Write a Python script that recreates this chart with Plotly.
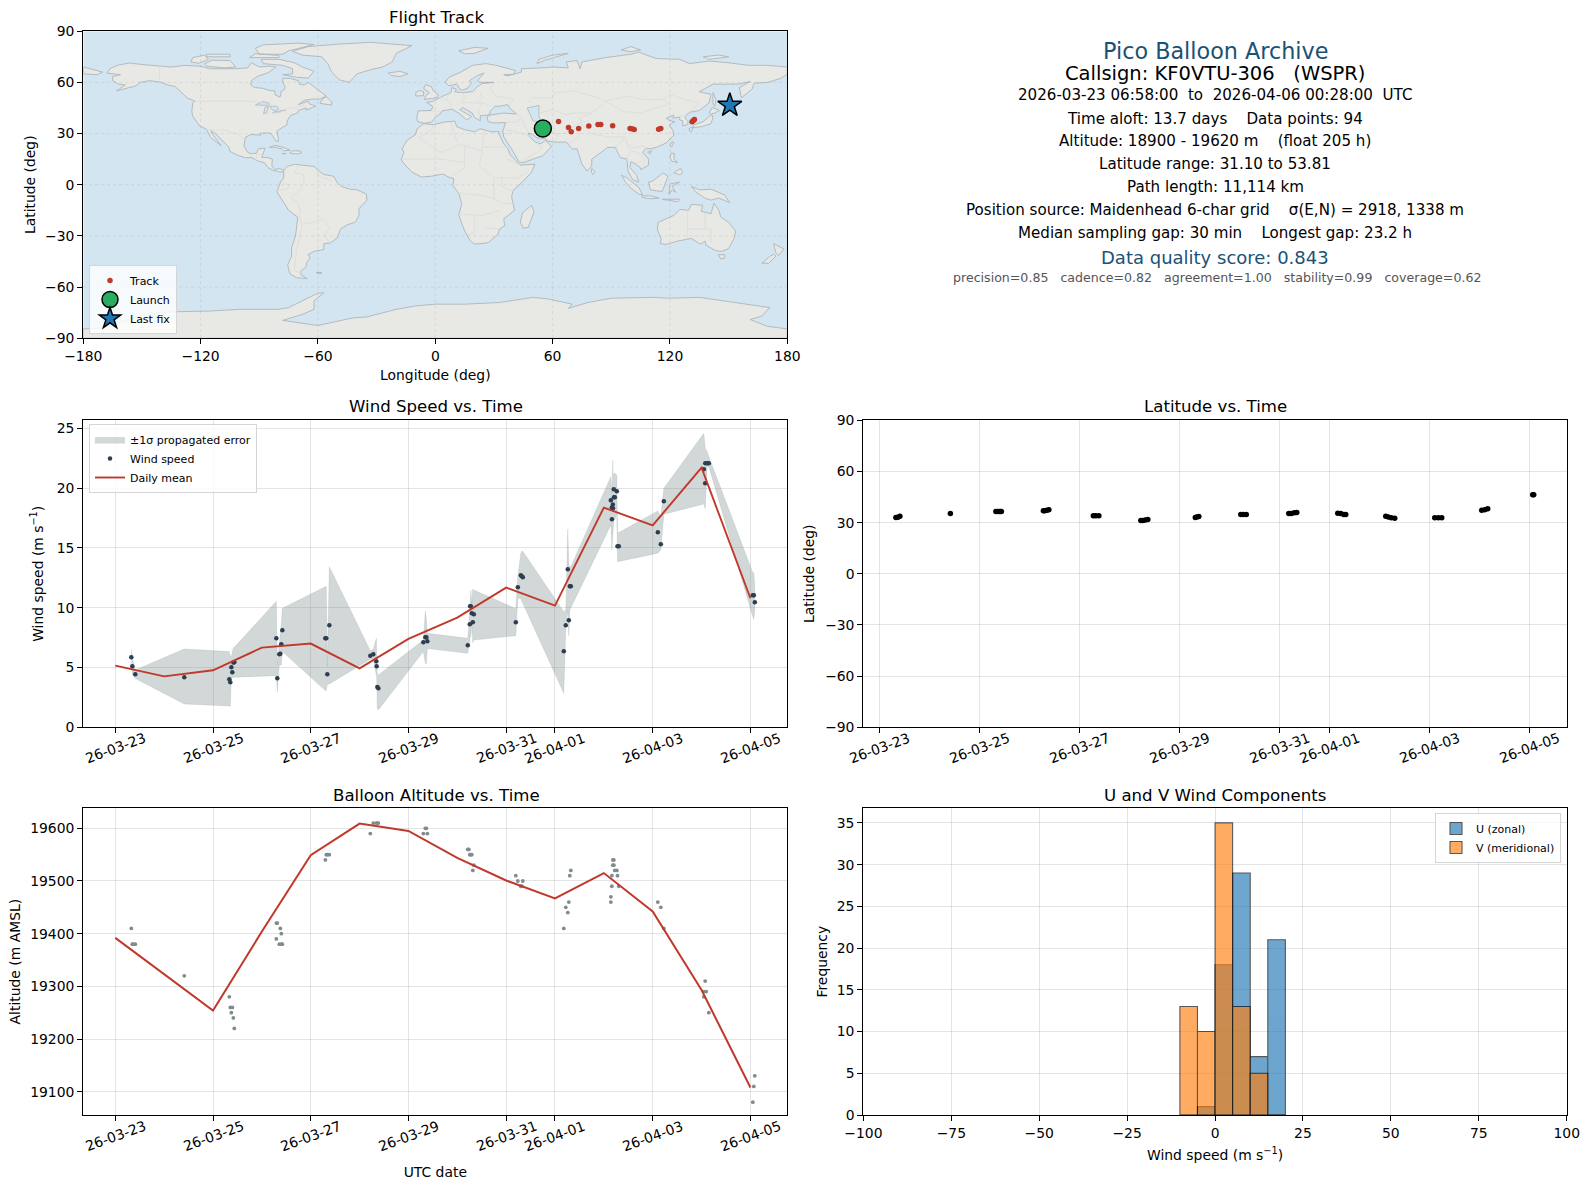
import pandas as pd
import plotly.graph_objects as go

FIG_W = 1589
FIG_H = 1189
FONT = "DejaVu Sans"
RED = "#c0392b"
NAVY = "#2c3e50"
SLATE = "#7f8c8d"
TITLE_BLUE = "#1a5276"
GRID = "rgba(170,170,170,0.32)"

BASE_DATE = pd.Timestamp("2026-03-23")

# date axis ticks
DATE_TICKS = ["2026-03-23", "2026-03-25", "2026-03-27", "2026-03-29",
              "2026-03-31", "2026-04-01", "2026-04-03", "2026-04-05"]
DATE_LABELS = ["26-03-23", "26-03-25", "26-03-27", "26-03-29",
               "26-03-31", "26-04-01", "26-04-03", "26-04-05"]

# wind speed panel
WIND_DAYS = [0.328, 0.348, 0.409, 1.412, 2.334, 2.354, 2.375, 2.395, 2.416, 2.436,
             3.296, 3.316, 3.357, 3.378, 3.398, 3.419, 4.299, 4.319, 4.340, 4.381,
             5.220, 5.281, 5.343, 5.350, 5.363, 5.384, 6.305, 6.346, 6.366, 6.387,
             7.215, 7.256, 7.263, 7.277, 7.297, 7.318, 7.338, 8.198, 8.239, 8.300,
             8.321, 8.341, 9.180, 9.221, 9.262, 9.283, 9.303, 9.324, 10.143, 10.163,
             10.165, 10.184, 10.186, 10.204, 10.206, 10.225, 10.265, 10.279, 10.306,
             11.105, 11.166, 11.228, 12.046, 12.074, 12.076, 12.115, 12.149,
             13.049, 13.070, 13.090]
WIND_SPEED = [5.85, 5.10, 4.43, 4.18, 4.01, 3.76, 5.02, 4.60, 5.41, 5.43,
              7.44, 4.10, 6.10, 6.16, 6.94, 8.11, 7.44, 7.44, 4.43, 8.53,
              5.99, 6.10, 5.52, 5.10, 3.37, 3.26, 7.11, 7.53, 7.53, 7.19,
              6.86, 8.61, 10.12, 10.12, 9.53, 8.78, 9.45, 8.78, 11.71, 12.71,
              12.63, 12.54, 6.35, 8.53, 13.21, 8.95, 11.79, 11.79, 18.98, 18.37,
              17.39, 18.62, 18.31, 19.90, 19.23, 19.23, 19.73, 15.13, 15.13,
              16.30, 15.30, 18.90, 21.57, 20.40, 22.07, 22.07, 22.07,
              11.04, 11.04, 10.45]
WIND_UPPER = [6.55, 5.77, 4.79, 6.55, 6.33, 5.91, 5.91, 6.19, 6.66, 6.69,
              10.54, 5.21, 7.02, 7.30, 8.70, 9.95, 11.76, 11.79, 5.07, 13.43,
              6.41, 6.52, 7.44, 6.74, 4.38, 4.38, 7.30, 9.73, 9.11, 7.86,
              7.44, 9.81, 11.48, 11.48, 10.37, 11.57, 11.48, 9.92, 12.60, 14.55,
              14.72, 14.72, 9.67, 9.81, 16.58, 13.57, 13.43, 13.43, 20.96, 20.12,
              19.56, 22.35, 20.96, 21.24, 21.24, 21.24, 21.10, 16.28, 16.28,
              18.09, 17.61, 19.98, 24.58, 23.33, 23.33, 23.05, 22.63,
              12.93, 12.93, 11.76]
WIND_LOWER = [5.16, 4.43, 4.07, 1.95, 1.78, 1.73, 4.15, 4.15, 4.18, 4.18,
              4.32, 2.93, 5.21, 5.21, 5.21, 6.33, 3.07, 3.07, 3.60, 3.62,
              5.69, 5.69, 4.38, 4.38, 1.59, 1.45, 6.33, 5.35, 5.30, 6.58,
              6.19, 7.16, 7.58, 7.58, 8.70, 7.08, 7.30, 7.66, 10.79, 10.79,
              10.51, 10.37, 2.84, 8.28, 9.81, 7.66, 9.81, 9.95, 16.92, 14.83,
              14.83, 15.94, 15.94, 17.34, 17.34, 17.34, 17.89, 13.85, 13.85,
              14.55, 14.83, 17.81, 18.67, 18.28, 18.28, 21.79, 21.79,
              9.25, 9.03, 9.81]

MEAN_DAYS = [0, 1, 2, 3, 4, 5, 6, 7, 8, 9, 10, 11, 12, 13]
WIND_MEAN = [5.16, 4.26, 4.77, 6.66, 7.00, 4.93, 7.39, 9.17, 11.68, 10.17, 18.37, 16.89, 21.71, 10.79]
ALT_MEAN = [19392, 19323, 19254, 19404, 19549, 19609, 19595, 19544, 19501, 19467, 19515, 19442, 19293, 19108]

# altitude panel
ALT_DAYS = [0.328, 0.348, 0.369, 0.409, 1.412, 2.334, 2.354, 2.375, 2.395, 2.416, 2.436,
            3.296, 3.297, 3.316, 3.357, 3.378, 3.398, 3.399, 3.419, 4.299, 4.319, 4.340, 4.381,
            5.220, 5.281, 5.343, 5.363, 5.384, 6.305, 6.346, 6.366, 6.387,
            7.215, 7.236, 7.256, 7.277, 7.297, 7.318, 7.338, 8.198, 8.239, 8.300, 8.321, 8.341,
            9.180, 9.221, 9.262, 9.283, 9.303, 9.324, 10.143, 10.144, 10.163, 10.164, 10.184,
            10.185, 10.204, 10.205, 10.225, 10.265, 10.279, 10.306,
            11.105, 11.166, 11.228, 12.046, 12.047, 12.074, 12.095, 12.149,
            13.049, 13.070, 13.090]
ALT_M = [19410, 19380, 19380, 19380, 19320, 19280, 19260, 19250, 19260, 19240, 19220,
         19390, 19420, 19420, 19380, 19410, 19400, 19380, 19380, 19540, 19550, 19550, 19550,
         19590, 19610, 19610, 19610, 19610, 19590, 19600, 19600, 19590,
         19560, 19560, 19550, 19550, 19550, 19520, 19530, 19510, 19500, 19490, 19490, 19500,
         19410, 19450, 19440, 19460, 19510, 19520, 19460, 19470, 19490, 19510, 19530,
         19540, 19540, 19530, 19520, 19520, 19510, 19490,
         19460, 19450, 19410, 19280, 19290, 19310, 19290, 19250,
         19080, 19110, 19130]

# latitude panel
LAT_DAYS = [0.33, 0.37, 0.41, 1.42, 2.33, 2.37, 2.41, 2.44, 3.28, 3.31, 3.35, 3.39,
            4.28, 4.33, 4.39, 5.23, 5.27, 5.32, 5.37, 6.32, 6.35, 6.39, 7.23, 7.28, 7.34,
            8.19, 8.24, 8.30, 8.35, 9.17, 9.23, 9.29, 9.33, 10.13, 10.18, 10.24, 10.31,
            11.11, 11.18, 11.25, 12.05, 12.11, 12.17, 13.07, 13.09]
LAT_DEG = [33.0, 33.2, 33.7, 35.3, 36.5, 36.6, 36.6, 36.5, 37.0, 37.0, 37.3, 37.6,
           34.1, 34.1, 34.0, 31.2, 31.2, 31.5, 31.8, 33.0, 33.3, 33.6, 34.7, 34.8, 34.7,
           35.3, 35.3, 35.8, 35.9, 35.5, 35.4, 34.8, 34.7, 33.7, 33.3, 32.9, 32.6,
           32.9, 32.9, 32.9, 37.2, 37.5, 38.2, 46.4, 46.4]

# histogram
BIN_EDGES = [-10, -5, 0, 5, 10, 15, 20]
U_COUNTS = [0, 1, 18, 29, 7, 21]
V_COUNTS = [13, 10, 35, 13, 5, 0]

# flight track
TRACK_LON = [63.0, 68.1, 69.5, 73.3, 78.5, 83.2, 84.6, 90.7, 99.6, 100.5, 101.7, 114.2, 115.3, 131.3, 132.0, 132.5]
TRACK_LAT = [37.1, 33.6, 31.0, 33.0, 34.4, 35.3, 35.3, 34.6, 33.0, 32.8, 32.4, 32.6, 33.0, 36.9, 37.6, 38.3]
LAUNCH_LON = [55.0]
LAUNCH_LAT = [33.0]
LAST_LON = [150.6]
LAST_LAT = [46.6]

LON_TICKS = [-180, -120, -60, 0, 60, 120, 180]
LAT_TICKS = [-90, -60, -30, 0, 30, 60, 90]

# rough coastlines, lon/lat
LAND = [
    # north america
    [(-168, 65.5), (-166, 68.3), (-162, 70.2), (-156.5, 71.3), (-150, 70.5), (-141, 69.7), (-135, 69), (-128, 70), (-120, 69.5), (-115, 68), (-108, 68), (-102, 68), (-96, 68.5), (-94, 71.5), (-90, 69), (-85, 69.5), (-81.5, 69), (-85, 66), (-87, 65), (-91, 63.5), (-94, 61), (-94.5, 58.8), (-92.5, 57), (-88, 56.5), (-85, 55.3), (-82, 55), (-82, 52.8), (-79.5, 51.3), (-79, 52.5), (-79, 54.5), (-77, 56), (-77, 58), (-78, 60), (-78, 62.4), (-74, 62.3), (-70, 61), (-69.5, 59), (-67, 58.5), (-65, 60), (-62, 57.5), (-60, 55.5), (-57, 53.5), (-55.8, 52), (-59, 50.2), (-63, 50.2), (-67, 49.5), (-70, 47), (-65, 49), (-64.5, 47.5), (-61, 46), (-63.5, 44.8), (-66, 43.8), (-66, 45), (-70, 43.6), (-70.5, 42), (-74, 40.6), (-75.5, 38), (-76, 35), (-78, 33.8), (-81, 31.5), (-80.2, 27), (-80.3, 25.3), (-81.7, 25.9), (-82.8, 28), (-84, 30), (-86, 30.4), (-89.5, 30.2), (-89.3, 29), (-91, 29.3), (-94, 29.5), (-97.2, 27.8), (-97.5, 25), (-97.8, 22.5), (-96, 19), (-94, 18.2), (-91.5, 18.5), (-90.5, 21), (-87, 21.5), (-88, 18.5), (-88.8, 16), (-86, 16), (-83.3, 15), (-83.6, 11), (-82, 9), (-79.5, 9.5), (-77.5, 8.6), (-78, 7.5), (-80, 7.5), (-81, 8), (-83, 8.5), (-85.5, 10), (-87.5, 13), (-91, 14), (-94, 16), (-97, 15.8), (-101, 17.3), (-105, 19.5), (-105.5, 22), (-109, 26), (-112.5, 30), (-114.8, 31.7), (-113.5, 29), (-111, 25), (-109.5, 23), (-112, 25), (-115, 28), (-117, 32.5), (-120.5, 34.5), (-124, 40), (-124.5, 43), (-124, 48), (-123, 49), (-127, 51), (-130, 54.5), (-133, 57.5), (-137, 58.5), (-140, 60), (-146, 61), (-151, 60), (-153, 58), (-158, 56.5), (-163, 55), (-158.5, 58.5), (-162, 59), (-165, 61), (-165, 63.5), (-161, 64.5)],
    # greenland
    [(-73, 78.2), (-65, 81), (-50, 82.4), (-33, 83.5), (-12, 81.5), (-20, 77), (-22, 72), (-27, 69), (-33, 67.5), (-40, 65), (-44, 60), (-49, 61.5), (-53, 66), (-55, 71), (-58, 75), (-68, 76)],
    # canadian arctic
    [(-80, 73.5), (-72, 71.5), (-68, 69), (-62, 66.5), (-65, 62.5), (-71, 63), (-78, 64.5), (-73, 65), (-73, 68), (-78, 70), (-88, 71), (-89, 73.5)],
    [(-117, 69.5), (-108, 68.5), (-102, 69), (-105, 72.8), (-114, 73), (-118, 71)],
    [(-125, 72), (-121, 71.2), (-116, 73.5), (-118, 76), (-124, 74.5)],
    [(-90, 76.5), (-78, 76.5), (-75, 78.5), (-62, 82.2), (-70, 83), (-88, 82), (-92, 80)],
    [(-95, 74.5), (-80, 74.5), (-80, 75.8), (-92, 76.8)],
    [(-117, 75), (-105, 75), (-105, 76.5), (-117, 76.5)],
    [(-59, 47.7), (-55.5, 46.9), (-53, 46.7), (-53, 48.5), (-55.6, 51.5), (-57.5, 50.5)],
    # caribbean
    [(-84.8, 21.9), (-82, 23.1), (-77.5, 21.8), (-74.2, 20.2), (-77.5, 19.9), (-78.5, 21), (-82, 22)],
    [(-74.4, 18.5), (-73, 19.9), (-69, 19.8), (-68.4, 18.5), (-71, 18)],
    [(-78.3, 18.3), (-76.3, 18.2), (-77, 17.8)],
    # south america
    [(-77.5, 8.6), (-75.5, 10.8), (-72, 12), (-68, 11.5), (-62, 10.7), (-60, 8.5), (-57, 6), (-52, 5), (-50, 1), (-48, -1), (-44, -2.5), (-40, -3), (-35.2, -5.5), (-35, -9), (-39, -14), (-39, -18), (-41, -22), (-45, -23.5), (-48.5, -26), (-50, -31), (-53.5, -34), (-57, -34.5), (-57, -38), (-62, -39), (-65, -41), (-64, -43), (-66, -46), (-66, -48), (-69, -51), (-68.5, -53), (-65.5, -55), (-71, -54.5), (-74.5, -52), (-75.5, -47), (-73.5, -42), (-73.5, -37), (-71.5, -30), (-70.3, -19), (-75, -15), (-80, -6), (-81, -4), (-80, -1), (-79, 2), (-77.5, 4)],
    [(-61, -51.5), (-58, -51.4), (-59, -52.3)],
    # africa
    [(-6, 35.8), (-1, 35.2), (5, 36.8), (10, 37.3), (11, 34), (15, 32.3), (20, 31), (23, 32.8), (29, 31), (32.5, 31.2), (32.5, 29.9), (35, 24), (37.2, 21), (38, 18), (43, 12), (43.3, 11.5), (51, 12), (49, 7), (44, 1), (40, -3), (39, -7), (40.5, -15), (35, -20), (35.5, -24), (32.8, -26), (32, -29), (27, -34), (20, -34.8), (18, -33), (15, -27), (12, -18), (13.5, -11), (12, -5), (9, -0.5), (9.5, 3.5), (7, 4.3), (4, 6.3), (-2, 5), (-7, 4.5), (-12, 7.5), (-15, 11), (-17.5, 14.7), (-16, 19), (-17, 21), (-14.5, 26), (-10, 29.5), (-9.5, 32.5)],
    [(49.3, -12), (50.5, -16), (47.5, -25), (45, -25.5), (43.5, -22), (44.5, -16.5)],
    # eurasia
    [(-9, 37), (-9.5, 39), (-8.8, 43.3), (-2, 43.5), (-1.3, 46), (-4.5, 48.3), (-1.5, 48.8), (2, 51), (4, 52), (8, 54), (8.5, 57), (10.8, 56), (10, 54.5), (14, 54), (19, 54.5), (21.5, 57.5), (24, 59.3), (30, 60), (23, 60), (21.5, 61), (25, 65.5), (21.5, 64), (17.5, 61), (18.5, 59.5), (16.5, 56.5), (14, 55.5), (12.5, 56), (11, 59), (7, 58), (5, 60), (7, 63), (13, 66), (19, 70), (26, 71), (31, 70), (41, 67), (40, 64.7), (35, 64.5), (37, 63.8), (44, 66), (44, 68), (54, 68.5), (60, 69), (68, 68.5), (67, 72), (72.5, 72.8), (74, 68), (75, 72), (80, 73), (87, 74.5), (100, 76.5), (104, 77.7), (113, 74), (125, 73.5), (130, 71), (140, 72.5), (150, 71.5), (160, 70), (170, 70), (180, 69), (180, 65), (177, 62.5), (170, 60), (163, 59.5), (162, 56), (156.5, 51), (155.5, 57), (161, 60.5), (155, 59), (142, 59), (135, 54.5), (141, 53), (140, 48), (135, 43.5), (130, 42.5), (127.5, 39.5), (129.3, 37), (129, 35.2), (126.5, 34.5), (126.5, 37.5), (125, 38), (125, 39.7), (121.5, 39), (122, 40.7), (118, 39), (120, 37.5), (122.5, 37), (119.5, 35), (121.5, 32), (122, 29), (118, 24.5), (114, 22.3), (110, 21), (108, 21.5), (106, 19), (109, 15), (109, 11.5), (105, 8.8), (105, 10), (102, 12.5), (100, 13.5), (99.5, 10), (103, 5.5), (104, 1.5), (101, 3), (98.5, 8), (98, 15), (94.5, 16), (92, 22), (88, 21.8), (86, 20), (80, 15), (80, 11), (77.5, 8), (75, 12), (73, 19), (72.5, 21), (70, 21), (67, 25), (61.5, 25), (57, 25.7), (56.5, 27), (52, 27.5), (49, 30), (47.5, 30), (48.5, 28), (51, 25), (54, 24), (56.3, 26), (59.5, 22.5), (55, 17), (45, 13), (43, 13), (39, 21), (35, 28), (34.5, 31.5), (36, 36.5), (30, 36.2), (27, 37), (26.5, 40), (29, 41), (35, 42), (41.5, 41.5), (38, 45), (37, 47), (33, 46), (30.5, 46), (28, 43), (28, 41.5), (26, 40.7), (23, 40.5), (23, 37.5), (20, 39.5), (19, 42), (14, 45.2), (12.5, 44), (16, 41.5), (18.5, 40), (16, 38), (12, 42), (8.5, 44.3), (3.5, 43.3), (3, 42), (0, 39.5), (-2, 36.7), (-5.5, 36)],
    [(-5.5, 50), (1, 51), (1.5, 52.8), (-1, 55), (-2, 57.5), (-5, 58.6), (-6, 56.5), (-3, 54), (-5, 52)],
    [(-10, 52), (-6, 52.2), (-6, 54.5), (-8, 55.2), (-10, 54)],
    [(-24, 65.5), (-18, 66.5), (-14, 65), (-18, 63.4), (-22.5, 64)],
    [(12, 78.5), (20, 80.5), (27, 80), (20, 77), (15, 76.8)],
    [(52, 71), (56, 73), (68, 77), (60, 76), (53, 73.5)],
    [(95, 79), (100, 81), (105, 79), (100, 78)],
    [(137, 75), (145, 76), (150, 75), (140, 73.5)],
    [(-180, 65), (-173, 64.5), (-170, 66), (-175, 67.5), (-180, 69)],
    [(142, 54), (143.5, 50), (143, 46), (142, 47), (142, 50)],
    # japan
    [(132, 35), (137, 37), (140, 40), (141.5, 41), (142, 39), (140.8, 35.7), (136, 34), (132, 33.5)],
    [(129.8, 33), (131.8, 33.8), (131, 31), (130, 31.5)],
    [(140, 42), (141.5, 45.3), (145.3, 43.5), (143, 42), (141, 41.5)],
    # east and south east asia
    [(121, 25), (122, 25), (120.8, 22), (120, 23.2)],
    [(108.7, 19), (110.5, 20), (110, 18.2)],
    [(120.5, 18.5), (122.2, 18.3), (122, 15), (124, 13), (121, 13.8), (120, 16)],
    [(122, 7), (125.5, 9.7), (126.5, 7), (125, 5.8)],
    [(80, 9.5), (81.8, 7.5), (80.5, 6), (79.8, 7.5)],
    [(95.3, 5.6), (98, 4), (104, -1.5), (106, -5.8), (104, -5.5), (100, -2), (97, 2)],
    [(105.5, -6.5), (110, -6.5), (114.5, -7.8), (110, -8.2), (106, -7.5)],
    [(109, 1.5), (111, 2), (116.5, 7), (119, 5), (117.7, 1), (116, -4), (110, -3)],
    [(119.5, -5.5), (120, 0.5), (125, 1.5), (121, -0.8), (123, -4.5), (121, -3)],
    [(131, -1), (135, -3), (141, -2.6), (148, -6), (150.5, -10.5), (145, -7.8), (141, -9), (138, -8), (133, -4)],
    [(116, -8.5), (125, -8.5), (124, -10), (118, -9)],
    # oceania
    [(114, -22), (113.5, -26), (115.5, -32), (115, -34.5), (118, -35), (124, -33), (131, -31.5), (135.5, -34.8), (138, -33), (138.5, -35.5), (143.5, -38.7), (146.5, -39), (150, -37.5), (153, -31), (153.5, -27), (150, -22), (146, -19), (145, -15), (142.5, -10.8), (141, -17), (136, -15.5), (136.7, -12), (131, -11.5), (129.5, -15), (125, -14.5), (122, -18)],
    [(144.7, -41), (148, -41), (148, -43), (146, -43.5)],
    [(173, -34.5), (178.3, -37.7), (175.5, -41.5), (174, -39.5)],
    [(173, -40.7), (174.2, -41.8), (170.5, -46), (167, -46), (171, -42)],
    # antarctica
    [(-180, -84.5), (-170, -84), (-160, -80), (-148, -76), (-135, -74.5), (-115, -74), (-100, -73), (-90, -73), (-80, -73), (-75, -72), (-68, -68), (-60, -63.5), (-57, -63.3), (-62, -68), (-62, -73), (-68, -76), (-78, -79.5), (-60, -82.5), (-42, -78), (-35, -77.5), (-20, -73), (-10, -71), (0, -70), (15, -70), (33, -69), (50, -66), (58, -67), (70, -70), (68, -72.5), (78, -69), (90, -66.5), (110, -66), (120, -66.5), (135, -66), (150, -68.5), (165, -71), (171, -72), (167, -77), (161, -79), (170, -83), (180, -84.5), (180, -90), (-180, -90)],
]
# caspian and great lakes
INLAND_WATER = [
    [(47, 45), (53, 46.5), (53, 40), (54, 37), (50, 37.3), (49, 40)],
    [(-92, 46.8), (-88, 48.8), (-85, 47.8), (-85, 46.6), (-88, 46.6)],
    [(-87.8, 41.8), (-86.3, 42), (-85.2, 45.8), (-87, 45.5)],
    [(-84.5, 46), (-81, 46), (-80, 44.6), (-82, 43.2), (-83.5, 44)],
    [(-83, 42), (-79, 42.8), (-79, 43.6), (-76.5, 43.6), (-79.5, 43.2), (-83, 42.5)],
]

BORDERS = [
    [(-141, 60), (-141, 69.7)],
    [(-123, 49), (-95, 49), (-89, 48), (-83, 46), (-82.5, 42), (-79, 43), (-75, 45), (-71, 45), (-67.5, 47), (-67, 45)],
    [(-117, 32.5), (-108, 31.5), (-106, 31.7), (-101, 29.5), (-97.2, 26)],
    [(-92, 14.5), (-91, 17.8), (-89, 18)],
    [(-70, 11.5), (-72, 7), (-67.5, 6), (-67, 1), (-70, -4), (-74, -7.5), (-70, -11), (-69, -16), (-70, -18)],
    [(-60, 8.5), (-60, 5), (-52, 2)],
    [(-58, -20), (-62, -22), (-67, -23)],
    [(-69.5, -18), (-68, -24), (-71, -38), (-72, -50), (-68.5, -52)],
    [(-58, -20), (-54, -25), (-57, -30), (-53.5, -34)],
    [(-79, 1.5), (-75, 0), (-75, -2), (-80, -3.5)],
    [(-8.7, 27.5), (-2, 32), (-1, 35)],
    [(-8.7, 27.5), (3, 19), (12, 23.5), (9.5, 30), (8, 36.8)],
    [(12, 23.5), (15, 23), (24, 20), (25, 31.5)],
    [(25, 22), (36.9, 22)],
    [(15, 23), (15, 10), (8.5, 4.5)],
    [(24, 20), (22.5, 11), (30, 4), (34, 4), (42, 4), (48, 8)],
    [(34, 4), (34, -1), (40, -4)],
    [(12, -5), (22, -6), (30, -8), (30, -3), (30, 4)],
    [(30, -8), (34, -11), (40.5, -11)],
    [(12, -17), (24, -18), (33, -15)],
    [(20, -18), (20, -28), (17, -29)],
    [(25, -25), (32, -26)],
    [(-17, 15), (-5, 15), (3, 15), (15, 13)],
    [(37, 15), (43, 12)],
    [(-1.8, 43.4), (3, 42.5)],
    [(2.5, 51), (6, 49.5), (8, 48), (7, 44)],
    [(7, 53.5), (6, 50)],
    [(14, 54), (15, 51), (13, 48.5), (17, 48), (22, 48), (24, 48)],
    [(23, 54), (24, 51), (22, 48.5)],
    [(30, 60), (28, 56), (31, 52), (40, 50), (38, 47)],
    [(28, 46), (24, 48), (22, 44), (22.5, 41)],
    [(47, 48), (50, 51), (60, 51), (61, 54), (71, 55), (77, 53), (83, 51), (87, 49)],
    [(87, 49), (98, 52), (106, 50), (116, 50), (120, 53), (127, 50), (135, 48), (131, 43)],
    [(87, 49), (96, 43), (105, 42), (112, 45), (120, 47), (116, 50)],
    [(74, 39), (80, 42), (87, 49)],
    [(74, 39), (75, 35), (80, 30), (88, 28), (97, 28), (98, 24), (102, 21.5), (106, 23), (108, 21.5)],
    [(61, 25), (63, 29), (61, 30), (66, 30), (71, 34), (75, 37)],
    [(75, 35), (74, 30), (71, 26), (68, 24)],
    [(44, 39.5), (46, 34), (48, 30)],
    [(61, 30), (61, 36), (55, 38), (54, 37)],
    [(53, 42), (60, 44), (67, 41), (71, 42), (80, 42)],
    [(92, 22), (94, 24), (97, 28)],
    [(98, 24), (100, 20), (98, 16), (99, 11)],
    [(100, 20), (105, 18), (107, 14), (106, 11)],
    [(102, 12.5), (106, 14)],
    [(36, 36.5), (42, 37), (44, 39.5), (41.5, 41.5)],
    [(36, 32), (39, 32), (47, 29), (48, 28)],
    [(43, 13), (52, 19), (55, 22), (52, 24)],
    [(39, 32), (36, 29.5)],
    [(129, -15), (129, -31.5)],
    [(138, -16.5), (138, -26), (141, -26), (141, -34)],
    [(129, -26), (138, -26)],
    [(125, 40), (130, 42.5)],
]

SUMMARY_TITLE = "Pico Balloon Archive"
SUMMARY_CALL = "Callsign: KF0VTU-306   (WSPR)"
SUMMARY_LINES = [
    "2026-03-23 06:58:00  to  2026-04-06 00:28:00  UTC",
    "Time aloft: 13.7 days    Data points: 94",
    "Altitude: 18900 - 19620 m    (float 205 h)",
    "Latitude range: 31.10 to 53.81",
    "Path length: 11,114 km",
    "Position source: Maidenhead 6-char grid    σ(E,N) = 2918, 1338 m",
    "Median sampling gap: 30 min    Longest gap: 23.2 h",
]
SUMMARY_SCORE = "Data quality score: 0.843"
SUMMARY_PARTS = "precision=0.85   cadence=0.82   agreement=1.00   stability=0.99   coverage=0.62"


def to_dates(days):
    return [BASE_DATE + pd.Timedelta(days=float(d)) for d in days]


def unzip_rings(rings, close=True):
    xs, ys = [], []
    for ring in rings:
        pts = ring + ring[:1] if close else ring
        xs += [p[0] for p in pts] + [None]
        ys += [p[1] for p in pts] + [None]
    return xs, ys


def px_domain_x(left, right):
    return [left / FIG_W, right / FIG_W]


def px_domain_y(top, bottom):
    return [1 - bottom / FIG_H, 1 - top / FIG_H]


def axis(domain, anchor, **kw):
    base = dict(domain=domain, anchor=anchor, automargin=False, showline=True, mirror=True, linecolor="black", linewidth=1.3,
                ticks="outside", ticklen=5, tickwidth=1, tickcolor="black", showgrid=True, gridcolor=GRID,
                gridwidth=1, zeroline=False, tickfont=dict(size=13.9, color="black"))
    base.update(kw)
    return base


def axis_title(text, standoff=8):
    return dict(text=text, font=dict(size=13.9), standoff=standoff)


def note(text, x, y, size=13.9, color="black", **kw):
    return dict(text=text, x=x / FIG_W, y=1 - y / FIG_H, xref="paper", yref="paper", showarrow=False,
                xanchor="center", yanchor="middle", font=dict(size=size, color=color, family=FONT), **kw)


fig = go.Figure()

# map
fig.add_shape(type="rect", xref="x", yref="y", x0=-180, x1=180, y0=-90, y1=90,
              fillcolor="#d3e5f1", line_width=0, layer="below")
land_x, land_y = unzip_rings(LAND)
fig.add_trace(go.Scatter(x=land_x, y=land_y, mode="lines", fill="toself", fillcolor="#e8e8e4",
                         line=dict(color="#aeb6ba", width=0.9), showlegend=False, hoverinfo="skip",
                         xaxis="x", yaxis="y"))
sea_x, sea_y = unzip_rings(INLAND_WATER)
fig.add_trace(go.Scatter(x=sea_x, y=sea_y, mode="lines", fill="toself", fillcolor="#d3e5f1",
                         line=dict(color="#aeb6ba", width=0.8), showlegend=False, hoverinfo="skip",
                         xaxis="x", yaxis="y"))
border_x, border_y = unzip_rings(BORDERS, close=False)
fig.add_trace(go.Scatter(x=border_x, y=border_y, mode="lines", line=dict(color="#d9dbd8", width=0.7),
                         showlegend=False, hoverinfo="skip", xaxis="x", yaxis="y"))
grid_x, grid_y = [], []
for lon in LON_TICKS[1:-1]:
    grid_x += [lon, lon, None]
    grid_y += [LAT_TICKS[0], LAT_TICKS[-1], None]
for lat in LAT_TICKS[1:-1]:
    grid_x += [LON_TICKS[0], LON_TICKS[-1], None]
    grid_y += [lat, lat, None]
fig.add_trace(go.Scatter(x=grid_x, y=grid_y, mode="lines", line=dict(color="rgba(120,120,120,0.18)", width=0.8, dash="dot"),
                         showlegend=False, hoverinfo="skip", xaxis="x", yaxis="y"))
fig.add_trace(go.Scatter(x=TRACK_LON, y=TRACK_LAT, mode="markers", name="Track",
                         marker=dict(color=RED, size=5.5), xaxis="x", yaxis="y", legend="legend"))
fig.add_trace(go.Scatter(x=LAUNCH_LON, y=LAUNCH_LAT, mode="markers", name="Launch",
                         marker=dict(color="#27ae60", size=17, line=dict(color="black", width=1.5)),
                         xaxis="x", yaxis="y", legend="legend"))
fig.add_trace(go.Scatter(x=LAST_LON, y=LAST_LAT, mode="markers", name="Last fix",
                         marker=dict(color="#1f77b4", size=18, symbol="star", line=dict(color="black", width=1.5)),
                         xaxis="x", yaxis="y", legend="legend"))

# wind speed
band_x = to_dates(WIND_DAYS) + to_dates(WIND_DAYS[::-1])
fig.add_trace(go.Scatter(x=band_x, y=WIND_UPPER + WIND_LOWER[::-1], mode="lines", fill="toself",
                         fillcolor="rgba(127,140,141,0.35)", line=dict(color="rgba(127,140,141,0.2)", width=0.8),
                         name="±1σ propagated error", xaxis="x2", yaxis="y2", legend="legend2"))
fig.add_trace(go.Scatter(x=to_dates(WIND_DAYS), y=WIND_SPEED, mode="markers", name="Wind speed",
                         marker=dict(color=NAVY, size=4.5), xaxis="x2", yaxis="y2", legend="legend2"))
fig.add_trace(go.Scatter(x=to_dates(MEAN_DAYS), y=WIND_MEAN, mode="lines", name="Daily mean",
                         line=dict(color=RED, width=1.9), xaxis="x2", yaxis="y2", legend="legend2"))

# latitude
fig.add_trace(go.Scatter(x=to_dates(LAT_DAYS), y=LAT_DEG, mode="markers", marker=dict(color="black", size=5.5),
                         showlegend=False, xaxis="x3", yaxis="y3"))

# altitude
fig.add_trace(go.Scatter(x=to_dates(ALT_DAYS), y=ALT_M, mode="markers", marker=dict(color=SLATE, size=3.8),
                         showlegend=False, xaxis="x4", yaxis="y4"))
fig.add_trace(go.Scatter(x=to_dates(MEAN_DAYS), y=ALT_MEAN, mode="lines", line=dict(color=RED, width=2),
                         showlegend=False, xaxis="x4", yaxis="y4"))

# wind components
bin_mids = [(a + b) / 2 for a, b in zip(BIN_EDGES[:-1], BIN_EDGES[1:])]
bin_widths = [b - a for a, b in zip(BIN_EDGES[:-1], BIN_EDGES[1:])]
fig.add_trace(go.Bar(x=bin_mids, y=U_COUNTS, width=bin_widths, name="U (zonal)", marker=dict(color="#1f77b4", line=dict(color="black", width=1.1)),
                     opacity=0.65, xaxis="x5", yaxis="y5", legend="legend3"))
fig.add_trace(go.Bar(x=bin_mids, y=V_COUNTS, width=bin_widths, name="V (meridional)", marker=dict(color="#ff7f0e", line=dict(color="black", width=1.1)),
                     opacity=0.65, xaxis="x5", yaxis="y5", legend="legend3"))

LEFT = px_domain_x(83.3, 787.3)
RIGHT = px_domain_x(863.4, 1566.7)
ROW1 = px_domain_y(31.2, 338.3)
ROW2 = px_domain_y(420.3, 727.3)
ROW3 = px_domain_y(808.3, 1115)

wide_range = [BASE_DATE - pd.Timedelta(days=0.655), BASE_DATE + pd.Timedelta(days=13.755)]
lat_range = [BASE_DATE - pd.Timedelta(days=0.32), BASE_DATE + pd.Timedelta(days=13.75)]
date_ticks = dict(tickmode="array", tickvals=DATE_TICKS, showticklabels=False)

legend_style = dict(bgcolor="rgba(255,255,255,0.8)", bordercolor="#d5d5d5", borderwidth=1,
                    font=dict(size=11, color="black"), tracegroupgap=0, itemwidth=30)

annotations = [
    note("Flight Track", 436, 17.5, 16.6),
    note("Wind Speed vs. Time", 436, 406, 16.6),
    note("Latitude vs. Time", 1215, 406, 16.6),
    note("Balloon Altitude vs. Time", 436, 795, 16.6),
    note("U and V Wind Components", 1215, 795, 16.6),
    note(SUMMARY_TITLE, 1215, 50.7, 22.3, TITLE_BLUE),
    note(SUMMARY_CALL, 1215, 73, 19.5),
    note(SUMMARY_SCORE, 1215, 257, 18, TITLE_BLUE),
    note(SUMMARY_PARTS, 1217, 277.7, 12.6, "#555555"),
]
for line, y in zip(SUMMARY_LINES, [95.2, 118.5, 141.4, 164, 187.4, 210.3, 233]):
    annotations.append(note(line, 1215, y, 15.1))
# date labels sit centred under the ticks, plotly would right-align them
for xref, bottom in [("x2", 727.3), ("x3", 727.3), ("x4", 1115)]:
    for tick, label in zip(DATE_TICKS, DATE_LABELS):
        annotations.append(dict(text=label, x=tick, xref=xref, y=1 - (bottom + 20.5) / FIG_H, yref="paper",
                                showarrow=False, textangle=-20, xanchor="center", yanchor="middle",
                                font=dict(size=13.9, color="black", family=FONT)))

fig.update_layout(
    width=FIG_W, height=FIG_H, margin=dict(l=0, r=0, t=0, b=0), autosize=False,
    paper_bgcolor="white", plot_bgcolor="white", barmode="overlay",
    font=dict(family=FONT, color="black"), annotations=annotations,
    xaxis=axis(LEFT, "y", range=[-180, 180], tickmode="array", tickvals=LON_TICKS, showgrid=False,
               title=axis_title("Longitude (deg)", 7)),
    yaxis=axis(ROW1, "x", range=[-90, 90], tickmode="array", tickvals=LAT_TICKS, showgrid=False,
               title=axis_title("Latitude (deg)", 6)),
    xaxis2=axis(LEFT, "y2", range=wide_range, **date_ticks),
    yaxis2=axis(ROW2, "x2", range=[0, 25.67], tickmode="array", tickvals=[0, 5, 10, 15, 20, 25],
                title=axis_title("Wind speed (m s<sup>−1</sup>)", 9)),
    xaxis3=axis(RIGHT, "y3", range=lat_range, **date_ticks),
    yaxis3=axis(ROW2, "x3", range=[-90, 90], tickmode="array", tickvals=LAT_TICKS,
                title=axis_title("Latitude (deg)", 7)),
    xaxis4=axis(LEFT, "y4", range=wide_range, **date_ticks, title=axis_title("UTC date", 47)),
    yaxis4=axis(ROW3, "x4", range=[19055.7, 19638], tickmode="array", tickformat="d",
                tickvals=[19100, 19200, 19300, 19400, 19500, 19600],
                title=axis_title("Altitude (m AMSL)", 6)),
    xaxis5=axis(RIGHT, "y5", range=[-100, 100], tickmode="array", tickvals=[-100, -75, -50, -25, 0, 25, 50, 75, 100],
                title=axis_title("Wind speed (m s<sup>−1</sup>)", 10)),
    yaxis5=axis(ROW3, "x5", range=[0, 36.75], tickmode="array", tickvals=[0, 5, 10, 15, 20, 25, 30, 35],
                title=axis_title("Frequency", 5)),
    legend=dict(x=89 / FIG_W, y=1 - 334 / FIG_H, xanchor="left", yanchor="bottom", itemsizing="trace", **legend_style),
    legend2=dict(x=89 / FIG_W, y=1 - 424 / FIG_H, xanchor="left", yanchor="top", **legend_style),
    legend3=dict(x=1561 / FIG_W, y=1 - 813 / FIG_H, xanchor="right", yanchor="top", **legend_style),
)

fig.write_html("out.html", config={"displayModeBar": False},
               post_script="document.body.style.margin='0';document.body.style.overflow='hidden';")
